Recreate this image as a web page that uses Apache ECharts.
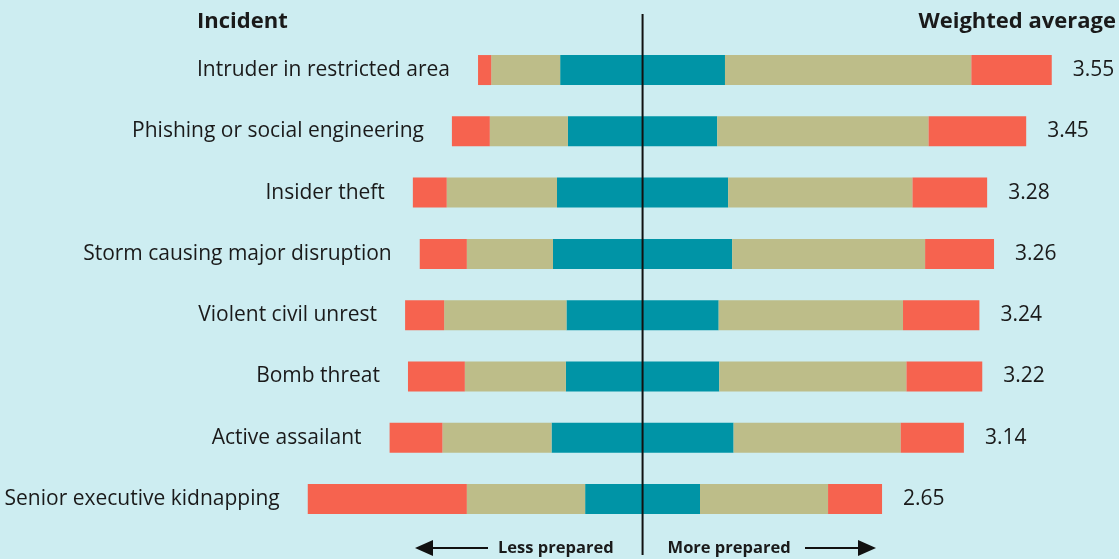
<!DOCTYPE html>
<html>
<head>
<meta charset="utf-8">
<script src="https://cdn.jsdelivr.net/npm/echarts@6/dist/echarts.min.js"></script>
<style>
html,body{margin:0;padding:0;background:#cdedf1;}
#c{width:1119px;height:559px;}
</style>
</head>
<body>
<div id="c"></div>
<script>
// Data (percent of respondents per preparedness level)
const incidents = ['Intruder in restricted area','Phishing or social engineering','Insider theft','Storm causing major disruption','Violent civil unrest','Bomb threat','Active assailant','Senior executive kidnapping'];
const veryUnprepared = [2.3, 6.6, 5.9, 8.2, 6.8, 9.9, 9.2, 27.7];
const unprepared     = [12.0, 13.6, 19.2, 15.0, 21.3, 17.6, 19.0, 20.6];
const neutral        = [28.7, 26.0, 29.8, 31.2, 26.5, 26.7, 31.7, 20.0];
const prepared       = [42.9, 36.8, 32.1, 33.6, 32.1, 32.6, 29.1, 22.3];
const veryPrepared   = [14.0, 17.0, 13.0, 12.0, 13.3, 13.2, 11.0, 9.4];
const weightedAvg    = ['3.55','3.45','3.28','3.26','3.24','3.22','3.14','2.65'];

const RED = '#f6634f', TAN = '#bdbd89', TEAL = '#0094a6', TXT = '#1a1a1a';
const FONT = '"Open Sans", sans-serif';

const chart = echarts.init(document.getElementById('c'), null, {renderer:'canvas'});
const base = {type:'bar', stack:'s', barWidth:30, silent:true};
const option = {
  backgroundColor:'#cdedf1',
  animation:false,
  grid:{left:298, right:17, top:39.4, bottom:29.3, containLabel:false},
  xAxis:{type:'value', min:-60, max:80, show:false},
  yAxis:{type:'category', data:incidents, inverse:true, show:false},
  series:[
    Object.assign({}, base, {name:'neutralL', data:neutral.map(v=>-v/2), itemStyle:{color:TEAL}}),
    Object.assign({}, base, {name:'unprepared', data:unprepared.map(v=>-v), itemStyle:{color:TAN}}),
    Object.assign({}, base, {name:'veryUnprepared', data:veryUnprepared.map(v=>-v), itemStyle:{color:RED},
      label:{show:true, position:'left', distance:28, color:TXT, fontFamily:FONT, fontSize:21,
        formatter:p=>incidents[p.dataIndex]}}),
    Object.assign({}, base, {name:'neutralR', data:neutral.map(v=>v/2), itemStyle:{color:TEAL}}),
    Object.assign({}, base, {name:'prepared', data:prepared, itemStyle:{color:TAN}}),
    Object.assign({}, base, {name:'veryPrepared', data:veryPrepared, itemStyle:{color:RED},
      label:{show:true, position:'right', distance:21, color:TXT, fontFamily:FONT, fontSize:21,
        formatter:p=>weightedAvg[p.dataIndex]}})
  ]
};
chart.setOption(option);

const cx = chart.convertToPixel({gridIndex:0}, [0, 0])[0];
const ay = 548;
chart.setOption({
  graphic:[
    {type:'line', shape:{x1:cx, y1:14, x2:cx, y2:555}, style:{stroke:'#111', lineWidth:2}, z:10},
    {type:'text', style:{text:'Incident', x:197, y:22, fill:TXT, font:'bold 22px "Open Sans"', textVerticalAlign:'middle', textAlign:'left'}},
    {type:'text', style:{text:'Weighted average', x:1116, y:22, fill:TXT, font:'bold 22px "Open Sans"', textVerticalAlign:'middle', textAlign:'right'}},
    {type:'text', style:{text:'Less prepared', x:cx-29, y:ay, fill:TXT, font:'bold 16.5px "Open Sans"', textVerticalAlign:'middle', textAlign:'right'}},
    {type:'text', style:{text:'More prepared', x:cx+25, y:ay, fill:TXT, font:'bold 16.5px "Open Sans"', textVerticalAlign:'middle', textAlign:'left'}},
    {type:'line', shape:{x1:430, y1:ay, x2:488, y2:ay}, style:{stroke:'#111', lineWidth:2}},
    {type:'polygon', shape:{points:[[415,ay],[433,ay-8],[433,ay+8]]}, style:{fill:'#111'}},
    {type:'line', shape:{x1:805, y1:ay, x2:860, y2:ay}, style:{stroke:'#111', lineWidth:2}},
    {type:'polygon', shape:{points:[[876,ay],[858,ay-8],[858,ay+8]]}, style:{fill:'#111'}}
  ]
});
</script>
</body>
</html>
